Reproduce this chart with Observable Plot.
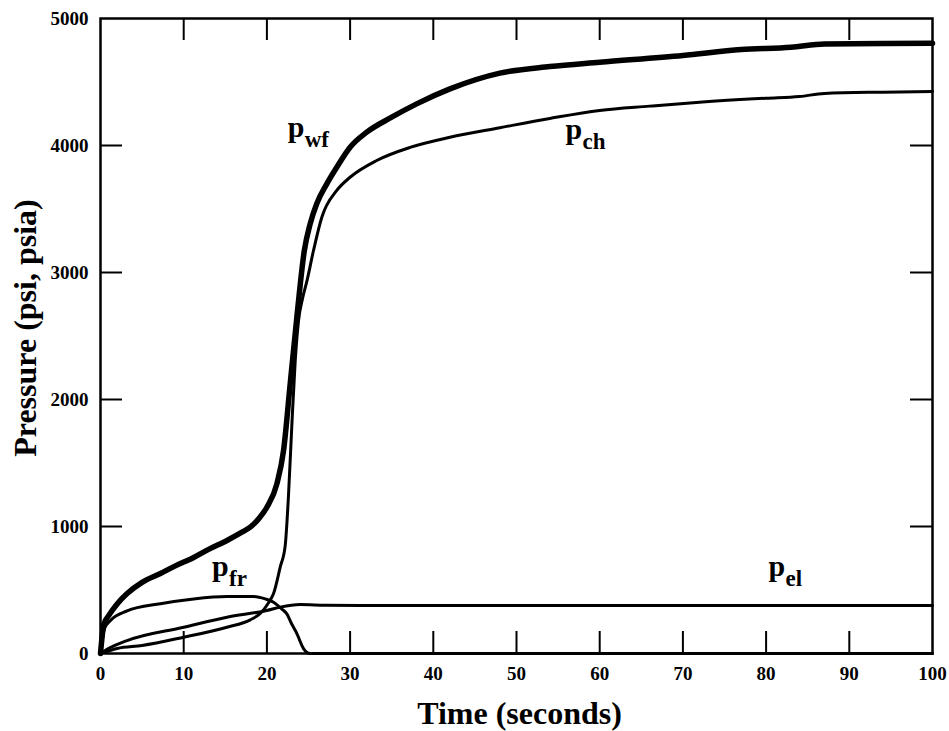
<!DOCTYPE html>
<html>
<head>
<meta charset="utf-8">
<script src="https://cdn.jsdelivr.net/npm/d3@7"></script>
<script src="https://cdn.jsdelivr.net/npm/@observablehq/plot@0.6"></script>
<style>
  html, body { margin: 0; padding: 0; background: #fff; }
  #chart svg { display: block; }
</style>
</head>
<body>
<div id="chart"></div>
<script>
// ---- data (time in seconds, pressure in psi) ----
const xTitle = "Time (seconds)";
const yTitle = "Pressure (psi, psia)";
const xTickLabels = [0, 10, 20, 30, 40, 50, 60, 70, 80, 90, 100];
const yTickLabels = [0, 1000, 2000, 3000, 4000, 5000];
const xInnerTicks = [10, 20, 30, 40, 50, 60, 70, 80, 90];
const yInnerTicks = [1000, 2000, 3000, 4000];

const pWf = [[0,0],[0.4,230],[1,300],[2,390],[3.2,472],[5,560],[7.2,630],[9,690],[11.2,756],[13,820],[15.2,890],[17,955],[18,995],[19,1060],[20,1152],[21.2,1336],[22.0,1598],[22.8,2124],[23.6,2648],[24.5,3173],[25.2,3383],[26,3543],[27.2,3698],[28.4,3829],[30,3987],[32,4105],[35,4223],[38,4328],[42,4446],[48,4570],[54,4622],[60,4656],[70,4709],[77,4756],[83,4774],[87,4800],[94,4804],[100,4805]];
const pCh = [[0,0],[2,40],[5,63],[10,128],[15.2,207],[18,265],[19.2,315],[20.2,400],[20.8,472],[21.6,680],[22.2,850],[22.6,1250],[23.0,1800],[23.4,2300],[23.8,2620],[24.3,2800],[24.8,2930],[25.6,3173],[26.6,3435],[28.4,3646],[30,3750],[33.2,3882],[37.3,3987],[42,4065],[48,4140],[54,4213],[60,4276],[66,4310],[72,4341],[80,4372],[84,4385],[87,4410],[94,4420],[100,4425]];
const pFr = [[0,0],[0.5,200],[1.2,260],[3.2,335],[7.2,392],[11.2,430],[15.2,449],[18.4,449],[19.8,430],[20.8,404],[21.8,350],[22.4,312],[23.0,230],[23.6,157],[24.4,39],[25.2,0],[60,0],[100,0]];
const pEl = [[0,0],[1,40],[3.2,102],[10,207],[15.2,286],[20,339],[21.6,365],[24,385],[27,380],[31.2,378],[60,378],[100,378]];

const labelMain = ["p", "p", "p", "p"];
const labelSub = ["wf", "ch", "fr", "el"];
const labelT = [22.5, 55.9, 13.4, 80.3];
const labelP = [4063, 4055, 614, 614];

const labels = labelMain.map((m, i) => ({main: m, sub: labelSub[i], t: labelT[i], p: labelP[i]}));

const serif = "'Liberation Serif', 'Times New Roman', serif";

const chart = Plot.plot({
  width: 949,
  height: 731,
  marginLeft: 100,
  marginRight: 17,
  marginTop: 18,
  marginBottom: 78,
  style: {fontFamily: serif, background: "#fff", color: "#000"},
  x: {domain: [0, 100]},
  y: {domain: [0, 5000]},
  marks: [
    // inward ticks
    Plot.tickX(xInnerTicks, {x: d => d, insetTop: 613, stroke: "#000", strokeWidth: 2}),
    Plot.tickX(xInnerTicks, {x: d => d, insetBottom: 613, stroke: "#000", strokeWidth: 2}),
    Plot.tickY(yInnerTicks, {y: d => d, insetRight: 810, stroke: "#000", strokeWidth: 2}),
    Plot.tickY(yInnerTicks, {y: d => d, insetLeft: 810, stroke: "#000", strokeWidth: 2}),
    // tick labels
    Plot.axisX({ticks: xTickLabels, tickSize: 0, tickPadding: 13, tickFormat: "d", fontSize: 19, fontWeight: "bold", label: null}),
    Plot.axisY({ticks: yTickLabels, tickSize: 0, tickPadding: 12, tickFormat: "d", fontSize: 19, fontWeight: "bold", label: null}),
    // curves
    Plot.line(pEl, {x: d => d[0], y: d => d[1], curve: "monotone-x", stroke: "#000", strokeWidth: 3}),
    Plot.line(pFr, {x: d => d[0], y: d => d[1], curve: "monotone-x", stroke: "#000", strokeWidth: 3}),
    Plot.line(pCh, {x: d => d[0], y: d => d[1], curve: "monotone-x", stroke: "#000", strokeWidth: 3}),
    Plot.line(pWf, {x: d => d[0], y: d => d[1], curve: "monotone-x", stroke: "#000", strokeWidth: 5.5}),
    // frame
    Plot.frame({stroke: "#000", strokeWidth: 2.5}),
    // curve labels
    Plot.text(labels, {x: "t", y: "p", text: "main", textAnchor: "start", lineAnchor: "bottom", fontSize: 30, fontWeight: "bold", fill: "#000"}),
    Plot.text(labels, {x: "t", y: "p", text: "sub", textAnchor: "start", lineAnchor: "bottom", dx: 17, dy: 10, fontSize: 23, fontWeight: "bold", fill: "#000"}),
    // axis titles
    Plot.text([xTitle], {text: d => d, frameAnchor: "bottom", textAnchor: "middle", lineAnchor: "bottom", dx: 3, dy: 70, fontSize: 32, fontWeight: "bold", fill: "#000"}),
    Plot.text([yTitle], {text: d => d, frameAnchor: "left", textAnchor: "middle", rotate: -90, lineAnchor: "bottom", dx: -65, dy: -8, fontSize: 32, fontWeight: "bold", fill: "#000"})
  ]
});

document.getElementById("chart").appendChild(chart);
</script>
</body>
</html>
